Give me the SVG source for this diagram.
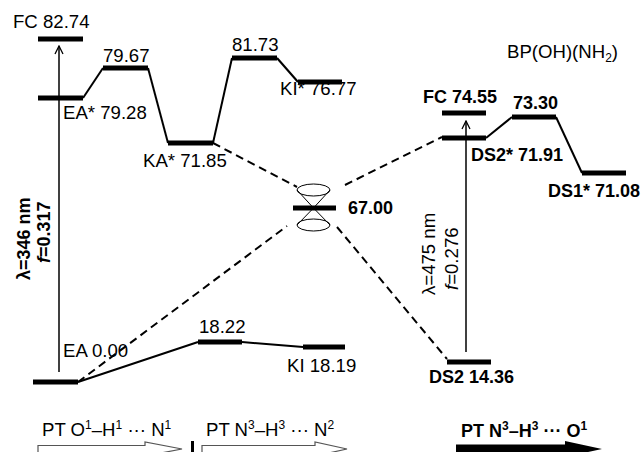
<svg xmlns="http://www.w3.org/2000/svg" width="643" height="452" viewBox="0 0 643 452">
<style>
text{font-family:"Liberation Sans",Arial,sans-serif;font-size:18.6px;fill:#000}
.b{font-weight:bold;font-size:18px}
.sup{font-size:12px}
.bar{stroke:#000;stroke-width:5;fill:none}
.ln{stroke:#000;stroke-width:2;fill:none}
.ds{stroke:#000;stroke-width:2;fill:none;stroke-dasharray:8 5}
.thin{stroke:#000;stroke-width:1.5;fill:none}
.cone{stroke:#000;stroke-width:1;fill:none}
</style>
<defs>
<marker id="ah" viewBox="0 0 10 10" refX="9" refY="5" markerWidth="10" markerHeight="10" markerUnits="userSpaceOnUse" orient="auto">
<path d="M1,1 L9,5 L1,9" fill="none" stroke="#000" stroke-width="1.3"/>
</marker>
</defs>
<rect width="643" height="452" fill="#fff"/>
<g id="connectors">
<polyline class="ln" points="83,98 103,68"/>
<polyline class="ln" points="148,68 168,143"/>
<polyline class="ln" points="213,143 232,58"/>
<polyline class="ln" points="277,58 298,82"/>
<polyline class="ln" points="78,382 198,342"/>
<polyline class="ln" points="242,342 303,347"/>
<polyline class="ln" points="486,138 512,117"/>
<polyline class="ln" points="556,117 582,173"/>
<line class="ds" x1="213" y1="143" x2="297" y2="187"/>
<line class="ds" x1="345" y1="185" x2="442" y2="137"/>
<line class="ds" x1="78" y1="382" x2="287" y2="226"/>
<line class="ds" x1="337" y1="227" x2="447" y2="359"/>
<line class="thin" x1="59" y1="372" x2="59" y2="46" marker-end="url(#ah)"/>
<line class="thin" x1="466" y1="352" x2="466" y2="121" marker-end="url(#ah)"/>
</g>
<g id="fc1"><line class="bar" x1="38" y1="39" x2="83" y2="39"/><text x="13" y="28">FC 82.74</text></g>
<g id="ea-star"><line class="bar" x1="38" y1="98" x2="83" y2="98"/><text x="63" y="119">EA* 79.28</text></g>
<g id="ts1"><line class="bar" x1="103" y1="68" x2="148" y2="68"/><text x="103" y="62">79.67</text></g>
<g id="ka-star"><line class="bar" x1="168" y1="143" x2="213" y2="143"/><text x="143" y="167">KA* 71.85</text></g>
<g id="ts2"><line class="bar" x1="232" y1="58" x2="277" y2="58"/><text x="232" y="51">81.73</text></g>
<g id="ki-star"><line class="bar" x1="298" y1="82" x2="342" y2="82"/><text x="280" y="95">KI* 76.77</text></g>
<g id="ea"><line class="bar" x1="33" y1="382" x2="78" y2="382"/><text x="63" y="357">EA 0.00</text></g>
<g id="ts3"><line class="bar" x1="198" y1="342" x2="242" y2="342"/><text x="199" y="333">18.22</text></g>
<g id="ki"><line class="bar" x1="303" y1="347" x2="345" y2="347"/><text x="287" y="372">KI 18.19</text></g>
<g id="ci">
<ellipse class="cone" cx="313.5" cy="190" rx="16.5" ry="6"/>
<ellipse class="cone" cx="313.5" cy="225" rx="16.5" ry="6"/>
<polyline class="cone" points="297,190 313.5,208 330,190"/>
<polyline class="cone" points="297,225 313.5,208 330,225"/>
<line class="bar" x1="293" y1="208" x2="336" y2="208"/>
<text class="b" x="348" y="214">67.00</text>
</g>
<g id="title"><text x="507" y="58">BP(OH)(NH<tspan font-size="12" dy="4">2</tspan><tspan dy="-4">)</tspan></text></g>
<g id="fc2"><line class="bar" x1="442" y1="113" x2="486" y2="113"/><text class="b" x="423" y="103">FC 74.55</text></g>
<g id="ds2-star"><line class="bar" x1="442" y1="138" x2="486" y2="138"/><text class="b" x="471" y="161">DS2* 71.91</text></g>
<g id="ts4"><line class="bar" x1="512" y1="117" x2="556" y2="117"/><text class="b" x="513" y="109">73.30</text></g>
<g id="ds1-star"><line class="bar" x1="582" y1="173" x2="626" y2="173"/><text class="b" x="548" y="197">DS1* 71.08</text></g>
<g id="ds2"><line class="bar" x1="447" y1="362" x2="491" y2="362"/><text class="b" x="429" y="383">DS2 14.36</text></g>
<g id="abs1">
<text class="b" transform="translate(30,280) rotate(-90)">λ=346 nm</text>
<text class="b" transform="translate(50,263) rotate(-90)"><tspan font-style="italic">f</tspan>=0.317</text>
</g>
<g id="abs2">
<text transform="translate(435,295) rotate(-90)">λ=475 nm</text>
<text transform="translate(458,290) rotate(-90)"><tspan font-style="italic">f</tspan>=0.276</text>
</g>
<g id="pt1">
<text x="42" y="436">PT O<tspan class="sup" dy="-7">1</tspan><tspan dy="7">–H</tspan><tspan class="sup" dy="-7">1</tspan><tspan dy="7"> ··· N</tspan><tspan class="sup" dy="-7">1</tspan></text>
<polygon points="38,445.5 145,445.5 145,442 182,449 145,456 145,452.5 38,452.5" fill="#fff" stroke="#555" stroke-width="1.2"/>
</g>
<rect id="divider" x="191" y="441" width="3" height="12" fill="#000"/>
<g id="pt2">
<text x="206" y="436">PT N<tspan class="sup" dy="-7">3</tspan><tspan dy="7">–H</tspan><tspan class="sup" dy="-7">3</tspan><tspan dy="7"> ··· N</tspan><tspan class="sup" dy="-7">2</tspan></text>
<polygon points="202,445.5 315,445.5 315,442 347,449 315,456 315,452.5 202,452.5" fill="#fff" stroke="#555" stroke-width="1.2"/>
</g>
<g id="pt3">
<text class="b" x="461" y="437">PT N<tspan class="sup" dy="-7">3</tspan><tspan dy="7">–H</tspan><tspan class="sup" dy="-7">3</tspan><tspan dy="7"> ··· O</tspan><tspan class="sup" dy="-7">1</tspan></text>
<polygon points="456,444.5 565,444.5 565,441 602,449 565,457 565,453.5 456,453.5" fill="#000"/>
</g>
</svg>
